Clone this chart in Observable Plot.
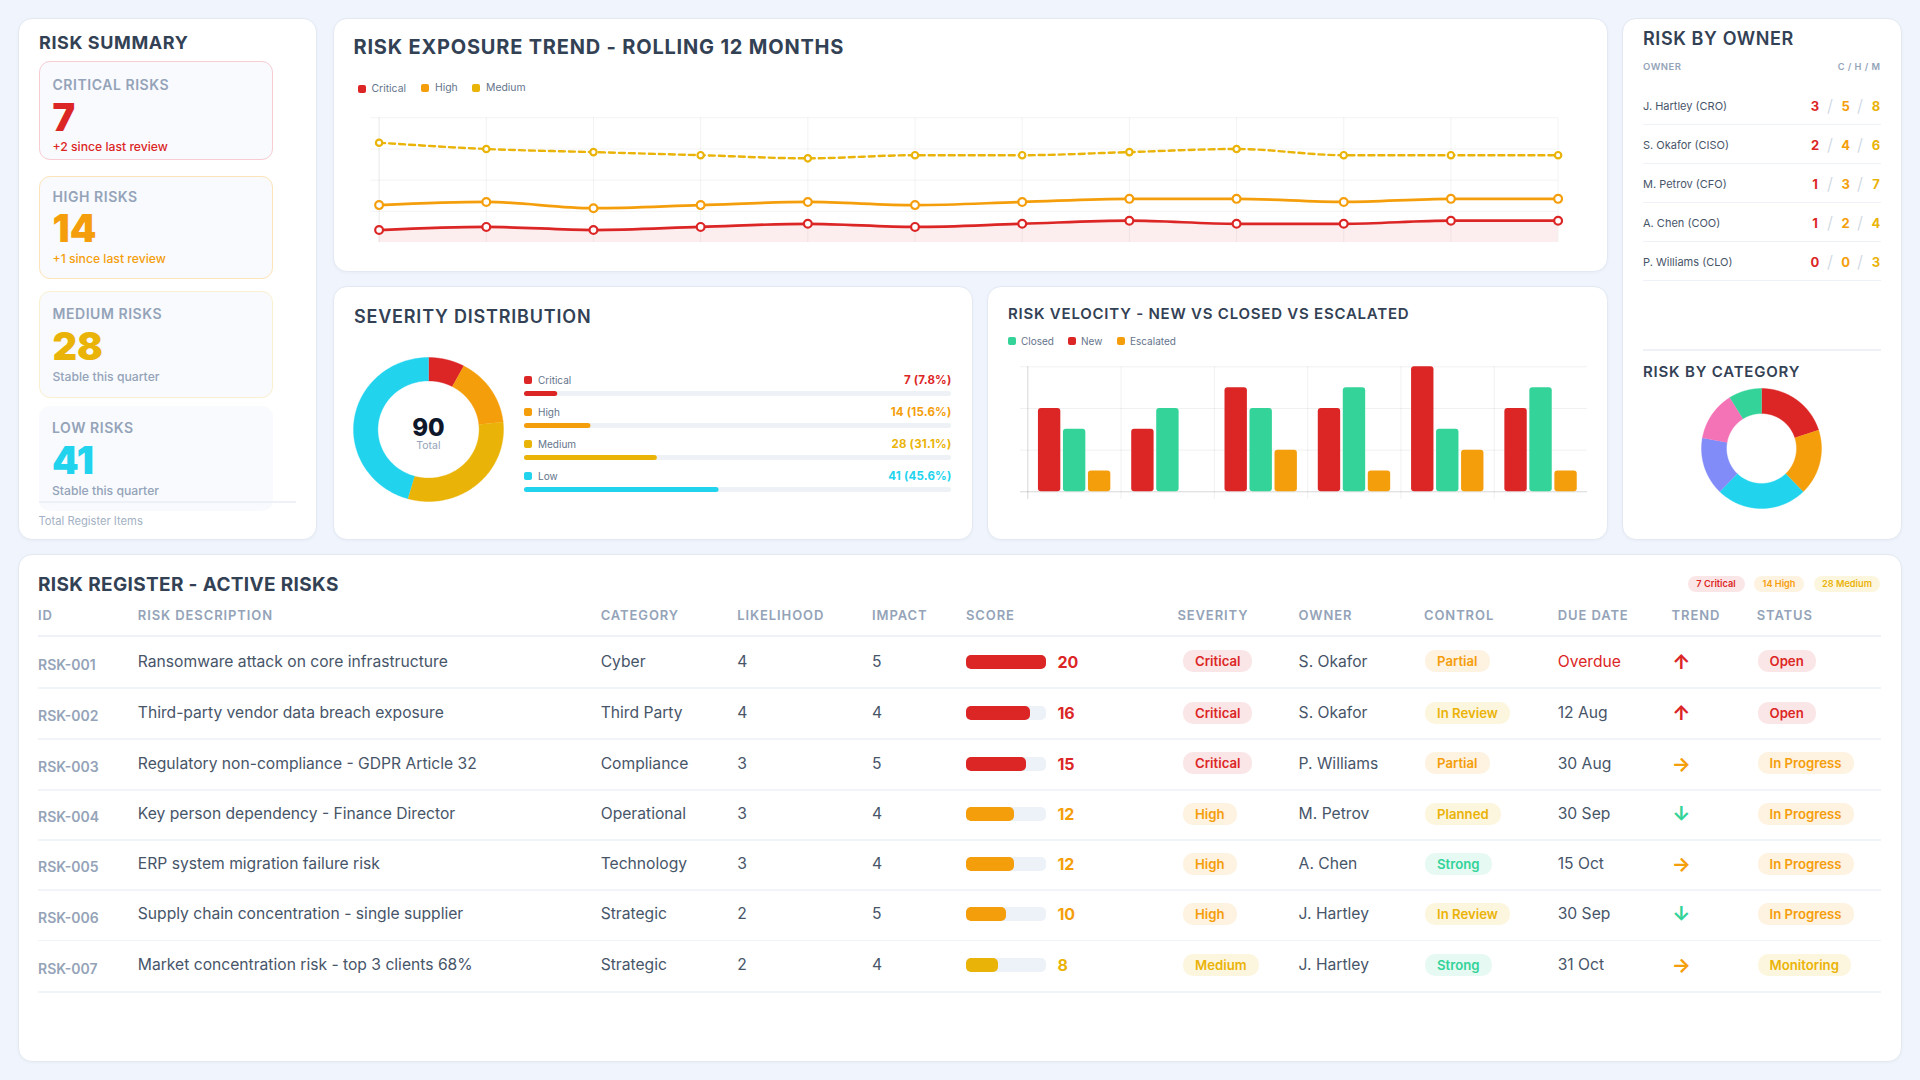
<!DOCTYPE html>
<html><head><meta charset="utf-8">
<script src="https://cdn.jsdelivr.net/npm/d3@7"></script>
<script src="https://cdn.jsdelivr.net/npm/@observablehq/plot@0.6"></script>
<style>
html,body{margin:0;padding:0;background:#f0f4fc;width:1920px;height:1080px;overflow:hidden;font-family:Inter,sans-serif}
#page{position:relative;width:1920px;height:1080px}
.card{position:absolute;background:#fff;border:1px solid #e3e9f3;border-radius:14px;box-sizing:border-box;box-shadow:0 1px 3px rgba(30,50,90,.04)}
.t{position:absolute;white-space:nowrap;line-height:1}
.box{position:absolute}
.box svg{display:block;overflow:visible;max-width:none!important}
.sq{position:absolute;width:8px;height:8px;border-radius:2px}
.badge{position:absolute;box-sizing:border-box;height:22px;border-radius:10px;padding:0 12px;font-size:13.2px;font-weight:600;line-height:22px;white-space:nowrap}
</style></head><body><div id="page"></div>
<script>
// ---------- data ----------
const sevNames=["Critical","High","Medium","Low"];
const sevValues=[7,14,28,41];
const sevColors=["#dc2626","#f59e0b","#eab308","#22d3ee"];
const sevPct=["7.8%","15.6%","31.1%","45.6%"];
const sevTotal=90;
const trendCritical=[4,5,4,5,6,5,6,7,6,6,7,7];
const trendHigh=[12,13,11,12,13,12,13,14,14,13,14,14];
const trendMedium=[32,30,29,28,27,28,28,29,30,28,28,28];
const velNew=[4,3,5,4,6,4];
const velClosed=[3,4,4,5,3,5];
const velEscalated=[1,0,2,1,2,1];
const catNames=["Cyber","Third Party","Compliance","Operational","Technology","Strategic"];
const catValues=[18,16,22,14,12,8];
const catColors=["#dc2626","#f59e0b","#22d3ee","#818cf8","#f472b6","#34d399"];
const ownerNames=["J. Hartley (CRO)","S. Okafor (CISO)","M. Petrov (CFO)","A. Chen (COO)","P. Williams (CLO)"];
const ownerC=[3,2,1,1,0];
const ownerH=[5,4,3,2,0];
const ownerM=[8,6,7,4,3];
const rIds=["RSK-001","RSK-002","RSK-003","RSK-004","RSK-005","RSK-006","RSK-007"];
const rDesc=["Ransomware attack on core infrastructure","Third-party vendor data breach exposure","Regulatory non-compliance - GDPR Article 32","Key person dependency - Finance Director","ERP system migration failure risk","Supply chain concentration - single supplier","Market concentration risk - top 3 clients 68%"];
const rCat=["Cyber","Third Party","Compliance","Operational","Technology","Strategic","Strategic"];
const rLik=[4,4,3,3,3,2,2];
const rImp=[5,4,5,4,4,5,4];
const rScore=[20,16,15,12,12,10,8];
const rSev=["Critical","Critical","Critical","High","High","High","Medium"];
const rOwner=["S. Okafor","S. Okafor","P. Williams","M. Petrov","A. Chen","J. Hartley","J. Hartley"];
const rCtrl=["Partial","In Review","Partial","Planned","Strong","In Review","Strong"];
const rDue=["Overdue","12 Aug","30 Aug","30 Sep","15 Oct","30 Sep","31 Oct"];
const rTrend=["↑","↑","→","↓","→","↓","→"];
const rStatus=["Open","Open","In Progress","In Progress","In Progress","In Progress","Monitoring"];
const rHead=["ID","RISK DESCRIPTION","CATEGORY","LIKELIHOOD","IMPACT","SCORE","SEVERITY","OWNER","CONTROL","DUE DATE","TREND","STATUS"];

// ---------- layout ----------
const RED="#dc2626",ORG="#f59e0b",YEL="#eab308",CYA="#22d3ee",GRN="#34d399";
const INK="#334155",MUT="#94a3b8",TXT="#475569";
const page=document.getElementById("page");
function card(x1,y1,x2,y2,st={}){const d=document.createElement("div");d.className="card";
  Object.assign(d.style,{left:x1+"px",top:y1+"px",width:(x2-x1)+"px",height:(y2-y1)+"px"},st);page.appendChild(d);return d;}
function T(x,y,s,st={}){const d=document.createElement("div");d.className="t";d.textContent=s;
  Object.assign(d.style,{left:x+"px",top:y+"px",transform:"translateY(-50%)"},st);page.appendChild(d);return d;}
function sq(x,y,c){const d=document.createElement("div");d.className="sq";Object.assign(d.style,{left:x+"px",top:(y-4)+"px",background:c});page.appendChild(d);}
function hr(x1,x2,y,c,h=1){const d=document.createElement("div");Object.assign(d.style,{position:"absolute",left:x1+"px",top:y+"px",width:(x2-x1)+"px",height:h+"px",background:c});page.appendChild(d);}
function badge(x,y,s,fg,bg){const d=document.createElement("div");d.className="badge";d.textContent=s;
  Object.assign(d.style,{left:x+"px",top:(y-11)+"px",color:fg,background:bg});page.appendChild(d);}
function box(x,y,node){const d=document.createElement("div");d.className="box";Object.assign(d.style,{left:x+"px",top:y+"px"});d.appendChild(node);page.appendChild(d);}
const base={axis:null,margin:0,style:{background:"transparent",overflow:"visible"}};

// cards
card(18,18,317,540);card(333,18,1608,272);card(333,286,973,540);card(987,286,1608,540);card(1622,18,1902,540);card(18,554,1902,1062);

// summary
T(39,43,"RISK SUMMARY",{fontSize:"18px",fontWeight:700,color:INK,letterSpacing:".6px"});
const sumCards=[
 {y1:61,y2:160,b:"#f7cdd2",label:"CRITICAL RISKS",ly:84.5,n:"7",ny:116.5,sub:"+2 since last review",sy:147,c:RED,sc:RED,x:52.5},
 {y1:176,y2:279,b:"#fce3b8",label:"HIGH RISKS",ly:197,n:"14",ny:227.5,sub:"+1 since last review",sy:259,c:ORG,sc:ORG,x:52.5},
 {y1:291,y2:397.5,b:"#faf0cf",label:"MEDIUM RISKS",ly:314,n:"28",ny:345.5,sub:"Stable this quarter",sy:377,c:YEL,sc:MUT,x:52.5},
 {y1:406,y2:511,b:"#f8fafe",label:"LOW RISKS",ly:428,n:"41",ny:460,sub:"Stable this quarter",sy:491,c:CYA,sc:MUT,x:52}];
for(const s of sumCards){
  card(39,s.y1,273,s.y2,{background:"#f8fafe",border:"1.5px solid "+s.b,borderRadius:"11px",boxShadow:"none"});
  T(s.x,s.ly,s.label,{fontSize:"14px",fontWeight:600,color:MUT,letterSpacing:".55px"});
  T(s.x,s.ny,s.n,{fontSize:"38px",fontWeight:900,color:s.c});
  T(s.x,s.sy,s.sub,{fontSize:"12.2px",fontWeight:500,color:s.sc});
}
hr(39,296,501,"#eef2f8",1.5);
T(38.5,522,"Total Register Items",{fontSize:"11.2px",color:"#a3b1c4"});

// trend
T(353.5,47.4,"RISK EXPOSURE TREND - ROLLING 12 MONTHS",{fontSize:"20px",fontWeight:700,color:INK,letterSpacing:".8px"});
[[357.5,371.5,88.5,"Critical",RED],[421,435,88,"High",ORG],[472,486,87.5,"Medium",YEL]].forEach(([a,b,y,s,c])=>{sq(a,y,c);T(b,y,s,{fontSize:"10.4px",color:"#64748b"});});
const mIdx=d3.range(trendCritical.length);
const grid="rgba(0,0,0,.05)";
const serie=(arr,c,o={})=>[
  Plot.line(mIdx,{x:d=>d,y:d=>arr[d],stroke:c,strokeWidth:o.w||2.7,curve:"monotone-x",strokeDasharray:o.dash}),
  Plot.dot(mIdx,{x:d=>d,y:d=>arr[d],r:o.r||3.9,fill:"#fff",stroke:c,strokeWidth:2.2})];
box(360,105,Plot.plot({...base,width:1210,height:150,
  x:{domain:[0,11],range:[18.6,1197.6],axis:null},y:{domain:[0,40],range:[137,12.3],axis:null},
  marks:[
   Plot.ruleY([10,20,30,40],{x1:-0.075,x2:11,stroke:grid}),
   Plot.ruleX(mIdx,{y1:0,y2:40,stroke:d=>d==0?"rgba(0,0,0,.09)":grid}),
   Plot.areaY(mIdx,{x:d=>d,y:d=>trendCritical[d],fill:RED,fillOpacity:.08,curve:"monotone-x"}),
   ...serie(trendMedium,YEL,{w:2.4,dash:"6 4",r:3.2}),
   ...serie(trendHigh,ORG),
   ...serie(trendCritical,RED)
  ]}));

// severity
T(354,316.9,"SEVERITY DISTRIBUTION",{fontSize:"18px",fontWeight:600,color:INK,letterSpacing:".8px"});
function donutPoints(names,values,inner){
  const total=d3.sum(values);let a=0;const pts=[];
  names.forEach((n,i)=>{const a0=a,a1=a+values[i]/total*2*Math.PI;a=a1;
    const ang=d3.range(0,101).map(k=>a0+(a1-a0)*k/100);
    const ring=[...ang.map(t=>[t,1]),...ang.slice().reverse().map(t=>[t,inner])];
    ring.forEach(([t,r])=>pts.push({name:n,x:Math.sin(t)*r,y:Math.cos(t)*r}));});
  return pts;}
function donut(names,values,colors,inner,w,h){
  return Plot.plot({...base,width:w,height:h,x:{domain:[-1,1],range:[0,w],axis:null},y:{domain:[-1,1],range:[h,0],axis:null},
    color:{domain:names,range:colors},
    marks:[Plot.line(donutPoints(names,values,inner),{x:"x",y:"y",z:"name",fill:"name",stroke:"name",strokeWidth:.4,curve:"linear"})]});}
box(353.2,357.2,donut(sevNames,sevValues,sevColors,0.675,150,144));
T(428.4,427.7,String(sevTotal),{fontSize:"24px",fontWeight:800,color:"#0f172a",transform:"translate(-50%,-50%)"});
T(428.4,446.3,"Total",{fontSize:"10.5px",color:MUT,transform:"translate(-50%,-50%)"});
sevNames.forEach((n,i)=>{const y=380+32*i;sq(524,y,sevColors[i]);
  T(538,y,n,{fontSize:"10px",color:"#64748b"});
  T(951.5,y+.6,sevValues[i]+" ("+sevPct[i]+")",{fontSize:"11.5px",fontWeight:700,color:sevColors[i],transform:"translate(-100%,-50%)",letterSpacing:".2px"});});
const sevRows=sevNames.map((n,i)=>({name:n,pct:sevValues[i]/sevTotal*100}));
box(524,376.5,Plot.plot({...base,width:427,height:128,
  x:{domain:[0,100],range:[0,427],axis:null},y:{domain:sevNames,range:[0,128],paddingInner:.844,paddingOuter:.422,axis:null},
  color:{domain:sevNames,range:sevColors},
  marks:[Plot.barX(sevRows,{x1:0,x2:100,y:"name",fill:"#eef2f7",rx:2.5}),
         Plot.barX(sevRows,{x1:0,x2:"pct",y:"name",fill:"name",rx:2.5})]}));

// velocity
T(1008,313.3,"RISK VELOCITY - NEW VS CLOSED VS ESCALATED",{fontSize:"15px",fontWeight:600,color:INK,letterSpacing:".77px"});
[[1008,1021,"Closed",GRN],[1068,1081,"New",RED],[1117,1130,"Escalated",ORG]].forEach(([a,b,s,c])=>{sq(a,341.3,c);T(b,341.3,s,{fontSize:"10px",color:"#64748b"});});
const gIdx=d3.range(velNew.length);
const velRows=[["New",velNew],["Closed",velClosed],["Escalated",velEscalated]].flatMap(([s,arr],j)=>
  arr.map((v,g)=>({series:s,group:g,slot:j,value:v}))).filter(d=>d.value>0);
box(1010,355,Plot.plot({...base,width:590,height:150,
  x:{domain:[0,6],range:[17.3,577],axis:null},y:{domain:[-0.37,6],range:[144,11.3],axis:null},
  color:{domain:["New","Closed","Escalated"],range:[RED,GRN,ORG]},
  marks:[
   Plot.ruleY([2,4,6],{x1:-0.078,x2:6,stroke:"rgba(0,0,0,.06)"}),
   Plot.ruleX(gIdx,{y1:-0.37,y2:6,stroke:d=>d==0?"rgba(0,0,0,.16)":"rgba(0,0,0,.06)"}),
   Plot.ruleY([0],{x1:-0.078,x2:6,stroke:"rgba(0,0,0,.16)"}),
   Plot.rectY(velRows,{x1:d=>d.group+.114+.268*d.slot,x2:d=>d.group+.114+.268*d.slot+.24,y1:0,y2:"value",fill:"series",rx:3})
  ]}));

// owners
T(1643,39,"RISK BY OWNER",{fontSize:"18px",fontWeight:600,color:INK,letterSpacing:".6px"});
T(1643,66.7,"OWNER",{fontSize:"9.5px",fontWeight:600,color:MUT,letterSpacing:".5px"});
T(1880.5,66.7,"C / H / M",{fontSize:"9.2px",fontWeight:600,color:MUT,letterSpacing:".5px",transform:"translate(-100%,-50%)"});
ownerNames.forEach((n,i)=>{const y=106+39*i;
  T(1643,y,n,{fontSize:"11px",color:TXT});
  hr(1643,1880.5,y+18,"#eef2f8");
  [[1815,ownerC[i],RED],[1845.7,ownerH[i],ORG],[1876,ownerM[i],YEL]].forEach(([x,v,c])=>
    T(x,y,String(v),{fontSize:"13px",fontWeight:700,color:c,transform:"translate(-50%,-50%)"}));
  [1830,1860].forEach(x=>T(x,y,"/",{fontSize:"17px",fontWeight:300,color:"#cbd5e1",transform:"translate(-50%,-50%)"}));
});
hr(1643,1880.5,349,"#eef2f8",1.5);
T(1643,371,"RISK BY CATEGORY",{fontSize:"15px",fontWeight:600,color:INK,letterSpacing:".8px"});
box(1701.4,388.3,donut(catNames,catValues,catColors,0.583,120,120));

// register
T(38,584,"RISK REGISTER - ACTIVE RISKS",{fontSize:"19px",fontWeight:700,color:INK,letterSpacing:".35px"});
const pill=(x1,x2,s,fg,bg)=>{const d=document.createElement("div");d.textContent=s;
  Object.assign(d.style,{position:"absolute",left:x1+"px",top:"576.3px",width:(x2-x1)+"px",height:"15.4px",lineHeight:"15.4px",textAlign:"center",borderRadius:"8px",fontSize:"9.2px",fontWeight:600,color:fg,background:bg,whiteSpace:"nowrap"});page.appendChild(d);};
const bgOf={[RED]:"#fbe6e7",[ORG]:"#fef2e1",[YEL]:"#fdf6df",[GRN]:"#e6f9f3"};
pill(1687.5,1744.5,"7 Critical",RED,bgOf[RED]);pill(1753.6,1804.4,"14 High",ORG,bgOf[ORG]);pill(1813.6,1880.4,"28 Medium",YEL,bgOf[YEL]);
const colX=[38,137.8,600.7,737.3,872,966,1177.4,1298.6,1424,1557.7,1671.6,1756.7];
rHead.forEach((h,i)=>T(colX[i],615.3,h,{fontSize:"13px",fontWeight:600,color:MUT,letterSpacing:".9px"}));
hr(38,1881,634.5,"#eef2f8",2);
const rowY=[661.7,713,763.7,814,864,914.3,965.3];
const rowLine=[687,738.3,789,839,889,939.7,991.3];
const sevC={Critical:RED,High:ORG,Medium:YEL};
const ctrlC={Partial:ORG,"In Review":YEL,Planned:YEL,Strong:GRN};
const statC={Open:RED,"In Progress":ORG,Monitoring:YEL};
const trendC={"↑":RED,"→":ORG,"↓":GRN};
rIds.forEach((id,i)=>{const y=rowY[i],ty=y,f={fontSize:"15.65px",color:TXT};
  T(38,y+3.3,id,{fontSize:"14px",fontWeight:600,color:MUT});
  T(137.8,ty,rDesc[i],f);T(600.7,ty,rCat[i],f);T(737.3,ty,String(rLik[i]),f);T(872,ty,String(rImp[i]),f);
  const c=sevC[rSev[i]];
  box(966,y-7,Plot.plot({...base,width:80,height:14,x:{domain:[0,20],range:[0,80],axis:null},y:{domain:[0,1],range:[14,0],axis:null},
    marks:[Plot.rectX([0],{x1:0,x2:20,y1:0,y2:1,fill:"#edf2f9",rx:5}),
           Plot.rectX([rScore[i]],{x1:0,x2:d=>d,y1:0,y2:1,fill:c,rx:5})]}));
  T(1057.4,ty,String(rScore[i]),{fontSize:"16px",fontWeight:700,color:c});
  badge(1183,y-.3,rSev[i],c,bgOf[c]);
  T(1298.6,ty,rOwner[i],f);
  badge(1425,y-.3,rCtrl[i],ctrlC[rCtrl[i]],bgOf[ctrlC[rCtrl[i]]]);
  T(1557.7,ty,rDue[i],{...f,color:rDue[i]=="Overdue"?RED:TXT});
  T(1681.4,y,rTrend[i],{fontSize:"20px",fontWeight:700,color:trendC[rTrend[i]],transform:"translate(-50%,-50%)"});
  badge(1757.5,y-.3,rStatus[i],statC[rStatus[i]],bgOf[statC[rStatus[i]]]);
  hr(38,1881,rowLine[i],"#f1f4f9",1.5);
});
</script></body></html>
